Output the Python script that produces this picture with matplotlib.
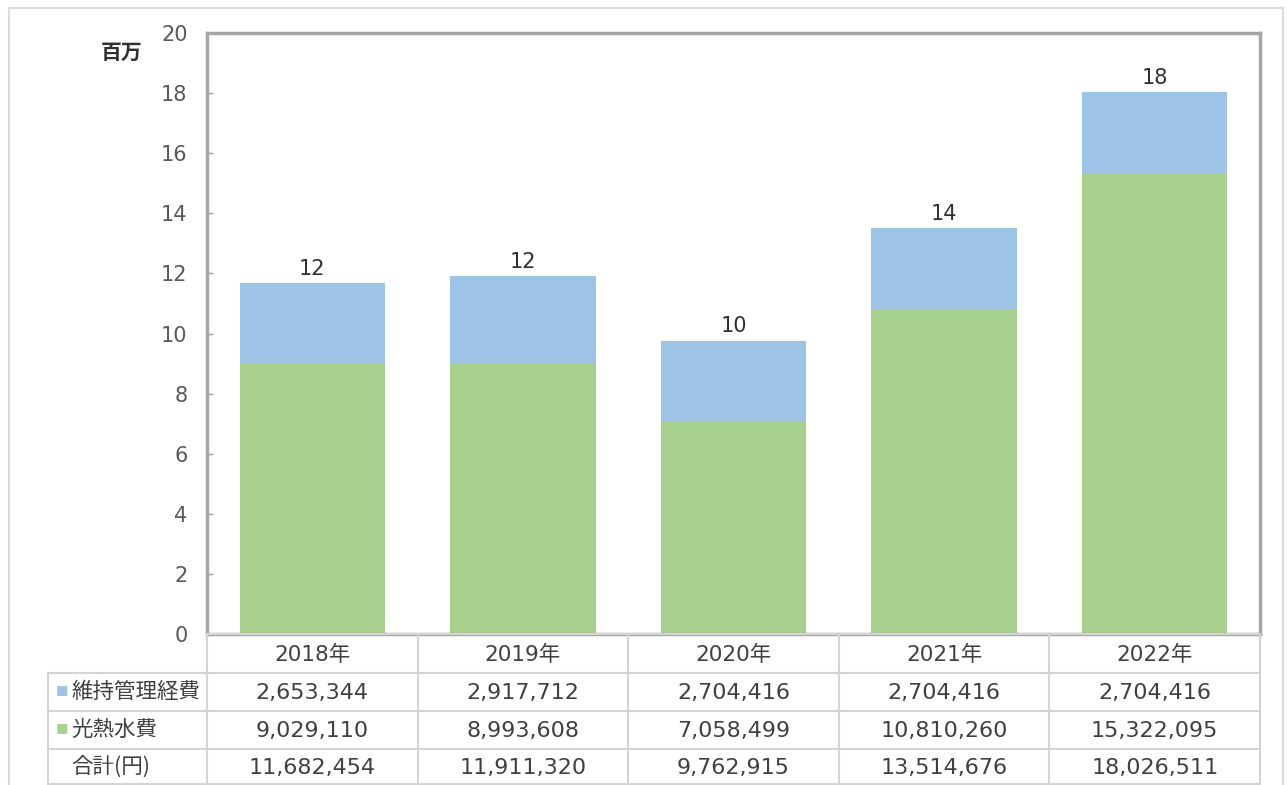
import matplotlib
matplotlib.use("Agg")
import matplotlib.pyplot as plt
from matplotlib.patches import Rectangle

plt.rcParams['font.family'] = ['DejaVu Sans', 'Noto Sans CJK JP']
CJK = ['Noto Sans CJK JP', 'DejaVu Sans']

YEARS = ["2018年", "2019年", "2020年", "2021年", "2022年"]
MAINT = [2653344, 2917712, 2704416, 2704416, 2704416]        # 維持管理経費
UTIL = [9029110, 8993608, 7058499, 10810260, 15322095]       # 光熱水費
TOTAL = [11682454, 11911320, 9762915, 13514676, 18026511]    # 合計(円)
ROW_NAMES = ["維持管理経費", "光熱水費", "合計(円)"]

BLUE = "#9dc3e6"
GREEN = "#a9d18e"
TXT = "#404040"
GRID = "#d4d4d4"

W, H = 1287, 785
fig = plt.figure(figsize=(W / 100, H / 100), dpi=100)


def fx(px):
    return px / W


def fy(py):
    return 1 - py / H


# outer border
fig.patches.append(Rectangle((fx(9), fy(792)), fx(1283) - fx(9), fy(8) - fy(792),
                             transform=fig.transFigure, fill=False,
                             edgecolor="#dcdcdc", linewidth=1.5))

# main plot
left, right, top, bottom = 207, 1260, 33, 634
ax = fig.add_axes([fx(left), fy(bottom), fx(right) - fx(left), fy(top) - fy(bottom)])
x = range(len(YEARS))
util_m = [v / 1e6 for v in UTIL]
maint_m = [v / 1e6 for v in MAINT]
ax.bar(x, util_m, width=0.69, color=GREEN, zorder=2)
ax.bar(x, maint_m, width=0.69, bottom=util_m, color=BLUE, zorder=2)
for i, t in enumerate(TOTAL):
    ax.annotate(f"{round(t / 1e6)}", (i, t / 1e6), xytext=(0, 3), textcoords="offset points",
                ha="center", va="bottom", fontsize=15, color="#303030")

ax.set_xlim(-0.5, len(YEARS) - 0.5)
ax.set_ylim(0, 20)
ax.set_yticks(range(0, 21, 2))
ax.set_xticks([])
ax.tick_params(axis="y", direction="in", length=4, width=1, color="#a0a0a0",
               labelsize=15, labelcolor="#595959", pad=14)
for s in ax.spines.values():
    s.set_color("#a6a6a6")
    s.set_linewidth(2.5)

fig.text(fx(122), fy(52), "百万", ha="center", va="center", fontsize=15,
         color="#303030", fontweight="bold", family=CJK)

# data table below the plot
col_edges = [left + i * (right - left) / len(YEARS) for i in range(len(YEARS) + 1)]
row_edges = [634, 673, 711, 749, 784]
tleft = 48
line_kw = dict(color=GRID, linewidth=1.5, transform=fig.transFigure)

# horizontal lines
fig.add_artist(plt.Line2D([fx(left), fx(right)], [fy(row_edges[0]), fy(row_edges[0])], **line_kw))
for yy in row_edges[1:]:
    fig.add_artist(plt.Line2D([fx(tleft), fx(right)], [fy(yy), fy(yy)], **line_kw))
# vertical lines
for cx in col_edges:
    fig.add_artist(plt.Line2D([fx(cx), fx(cx)], [fy(row_edges[0]), fy(row_edges[-1])], **line_kw))
fig.add_artist(plt.Line2D([fx(tleft), fx(tleft)], [fy(row_edges[1]), fy(row_edges[-1])], **line_kw))

rows = [MAINT, UTIL, TOTAL]
for j, yr in enumerate(YEARS):
    cx = (col_edges[j] + col_edges[j + 1]) / 2
    fig.text(fx(cx), fy((row_edges[0] + row_edges[1]) / 2 + 1), yr, ha="center", va="center",
             fontsize=15.5, color=TXT)
    for r, vals in enumerate(rows):
        cy = (row_edges[r + 1] + row_edges[r + 2]) / 2 + 1
        fig.text(fx(cx), fy(cy), f"{vals[j]:,}", ha="center", va="center",
                 fontsize=16, color=TXT)

markers = [BLUE, GREEN, None]
for r, name in enumerate(ROW_NAMES):
    cy = (row_edges[r + 1] + row_edges[r + 2]) / 2
    if markers[r]:
        fig.text(fx(62), fy(cy), "■", ha="center", va="center", fontsize=9,
                 color=markers[r], family=CJK)
    fig.text(fx(71), fy(cy), name, ha="left", va="center", fontsize=15.5,
             color=TXT, family=CJK)

fig.savefig("out.png", dpi=100)
